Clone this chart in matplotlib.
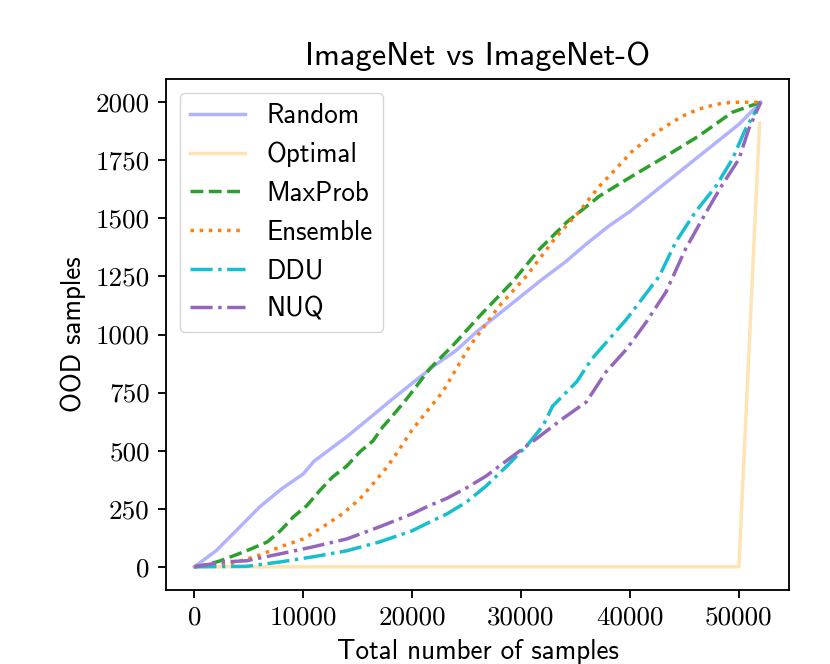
import matplotlib
matplotlib.use("Agg")
import matplotlib.pyplot as plt
from matplotlib.ticker import FuncFormatter

# ---- data (x in samples, y = OOD samples found) ----
random_x = [0, 2000, 4000, 6000, 8000, 10000, 11000, 12000, 14000, 16000, 18000, 20000, 22000, 24000,
            26000, 28000, 30000, 32000, 34000, 36000, 38000, 40000, 42000, 44000, 46000, 48000, 50000, 52000]
random_y = [0, 69, 163, 258, 335, 400, 455, 490, 560, 637, 715, 790, 865, 930,
            1015, 1090, 1165, 1240, 1310, 1390, 1465, 1530, 1605, 1680, 1755, 1830, 1905, 2000]

optimal_x = [0, 50000, 51900]
optimal_y = [0, 0, 1910]

maxprob_x = [0, 1200, 2400, 4800, 6700, 7900, 9100, 10300, 11500, 12700, 14000, 15200, 16400, 17300,
             18200, 19500, 21600, 23700, 26200, 29200, 31700, 34200, 37200, 40200, 43300, 46300, 49400, 52000]
maxprob_y = [0, 10, 26, 69, 107, 155, 215, 262, 327, 387, 434, 495, 542, 602,
             650, 723, 852, 951, 1080, 1226, 1368, 1484, 1596, 1682, 1768, 1854, 1957, 2000]

ensemble_x = [0, 3300, 5800, 7900, 10000, 11800, 13600, 15200, 16400, 17700, 18600, 20000, 22800, 25300,
              28000, 30500, 33200, 35300, 37200, 38700, 40200, 41800, 43300, 44800, 46300, 47900, 49400, 52000]
ensemble_y = [0, 13, 47, 86, 120, 172, 228, 292, 357, 430, 490, 590, 753, 951,
              1123, 1252, 1419, 1527, 1639, 1712, 1789, 1849, 1897, 1940, 1970, 1991, 2000, 2000]

ddu_x = [0, 4800, 7900, 10900, 14000, 17000, 20000, 21500, 23200, 25000, 26800, 28700, 30500, 32000,
         32900, 33800, 35100, 36500, 38100, 39700, 41100, 42700, 44200, 46000, 47900, 49400, 50600, 52000]
ddu_y = [0, 2, 21, 43, 69, 107, 155, 190, 228, 279, 348, 434, 520, 606,
         692, 735, 796, 895, 981, 1067, 1153, 1252, 1398, 1527, 1639, 1755, 1884, 2000]

nuq_x = [0, 2700, 4800, 7900, 10900, 14000, 17000, 20000, 21500, 23200, 25000, 26800, 28900, 31400,
         33800, 36000, 37800, 39700, 41500, 43300, 45100, 47000, 48400, 50000, 50900, 52000]
nuq_y = [0, 21, 26, 56, 86, 120, 172, 228, 262, 295, 340, 391, 465, 551,
         637, 710, 839, 938, 1054, 1183, 1368, 1527, 1639, 1755, 1884, 2000]

x_ticks = [0, 10000, 20000, 30000, 40000, 50000]
y_ticks = [0, 250, 500, 750, 1000, 1250, 1500, 1750, 2000]

S = 1.66
FS = 19.5
plt.rcParams['font.family'] = ['cmss10', 'DejaVu Sans']
plt.rcParams['font.size'] = FS
plt.rcParams['axes.linewidth'] = 0.8 * S
plt.rcParams['xtick.major.size'] = 3.5 * S
plt.rcParams['ytick.major.size'] = 3.5 * S
plt.rcParams['xtick.major.width'] = 0.8 * S
plt.rcParams['ytick.major.width'] = 0.8 * S
plt.rcParams['xtick.major.pad'] = 3.5 * S
plt.rcParams['ytick.major.pad'] = 3.5 * S
plt.rcParams['axes.unicode_minus'] = False

fig = plt.figure(figsize=(8.3, 6.64), dpi=100)
ax = fig.add_axes([0.2, 0.1114, 0.7506, 0.7696])

lw = 1.5 * S
ax.plot(random_x, random_y, color='blue', alpha=0.3, lw=lw, label='Random')
ax.plot(optimal_x, optimal_y, color='orange', alpha=0.3, lw=lw, label='Optimal')
ax.plot(maxprob_x, maxprob_y, color='tab:green', ls='--', lw=lw, label='MaxProb')
ax.plot(ensemble_x, ensemble_y, color='tab:orange', ls=':', lw=lw, label='Ensemble')
ax.plot(ddu_x, ddu_y, color='tab:cyan', ls='-.', lw=lw, label='DDU')
ax.plot(nuq_x, nuq_y, color='tab:purple', ls='-.', lw=lw, label='NUQ')

ax.set_xticks(x_ticks)
ax.set_yticks(y_ticks)
fmt = FuncFormatter(lambda v, p: f"{int(v)}")
ax.xaxis.set_major_formatter(fmt)
ax.yaxis.set_major_formatter(fmt)
ax.tick_params(labelfontfamily='cmr10', labelsize=FS)

ax.set_title('ImageNet vs ImageNet-O', fontsize=FS * 1.2, pad=6 * S)
ax.set_xlabel('Total number of samples', fontsize=FS, labelpad=4 * S)
ax.set_ylabel('OOD samples', fontsize=FS, labelpad=4 * S)

ax.legend(loc='upper left', fontsize=FS)

fig.savefig('out.png', dpi=100)
